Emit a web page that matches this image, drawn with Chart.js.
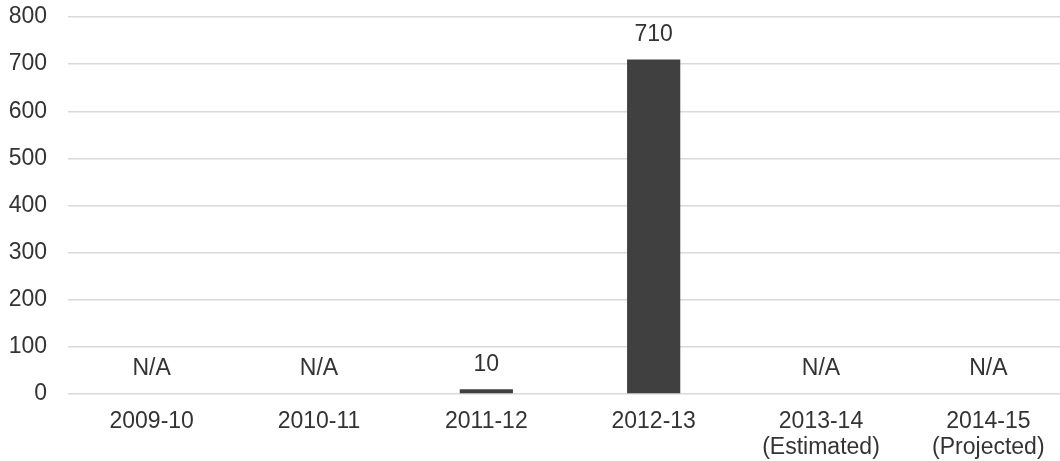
<!DOCTYPE html>
<html>
<head>
<meta charset="utf-8">
<script src="https://cdn.jsdelivr.net/npm/chart.js@4/dist/chart.umd.min.js"></script>
<style>
  html, body { margin: 0; padding: 0; background: #fff; overflow: hidden; }
  #wrap { position: relative; width: 1072px; height: 461px; }
</style>
</head>
<body>
<div id="wrap"><canvas id="c" width="1072" height="461"></canvas></div>
<script>
// Fiscal years and their values (null = not available)
const years = [
  ['2009-10'],
  ['2010-11'],
  ['2011-12'],
  ['2012-13'],
  ['2013-14', '(Estimated)'],
  ['2014-15', '(Projected)']
];
const values = [null, null, 10, 710, null, null];
const yTicks = [0, 100, 200, 300, 400, 500, 600, 700, 800];

const textColor = '#333333';
const fontFamily = '"Liberation Sans", Arial, sans-serif';
const fontSize = 23;

// Writes the value (or N/A) above each bar
const valueLabels = {
  id: 'valueLabels',
  afterDatasetsDraw(chart) {
    const ctx = chart.ctx;
    const yScale = chart.scales.y;
    ctx.save();
    ctx.font = fontSize + 'px ' + fontFamily;
    ctx.fillStyle = textColor;
    ctx.textAlign = 'center';
    ctx.textBaseline = 'middle';
    values.forEach((v, i) => {
      const x = chart.scales.x.getPixelForValue(i);
      const top = yScale.getPixelForValue(v == null ? 0 : v);
      ctx.fillText(v == null ? 'N/A' : String(v), x, top - 25);
    });
    ctx.restore();
  }
};

new Chart(document.getElementById('c'), {
  type: 'bar',
  data: {
    labels: years,
    datasets: [{
      data: values,
      backgroundColor: '#404040',
      borderWidth: 0,
      categoryPercentage: 1.0,
      barPercentage: 0.318
    }]
  },
  options: {
    responsive: false,
    animation: false,
    layout: { padding: { top: 17, right: 0, bottom: 0, left: 0 } },
    plugins: { legend: { display: false }, tooltip: { enabled: false } },
    scales: {
      x: {
        grid: { display: false, drawTicks: false },
        border: { display: false },
        ticks: {
          color: textColor,
          font: { family: fontFamily, size: fontSize, lineHeight: 1.13 },
          padding: 15,
          maxRotation: 0,
          autoSkip: false
        },
        afterFit(scale) { scale.height = 67; }
      },
      y: {
        min: 0,
        max: 800,
        afterBuildTicks(scale) { scale.ticks = yTicks.map(v => ({ value: v })); },
        grid: { color: '#d9d9d9', lineWidth: 1.5, drawTicks: false },
        border: { display: false },
        ticks: {
          color: textColor,
          font: { family: fontFamily, size: fontSize },
          padding: 21
        },
        afterFit(scale) {
          scale.width = 68;
          scale.paddingTop = 0;
          scale.paddingBottom = 0;
        }
      }
    }
  },
  plugins: [valueLabels]
});
</script>
</body>
</html>
